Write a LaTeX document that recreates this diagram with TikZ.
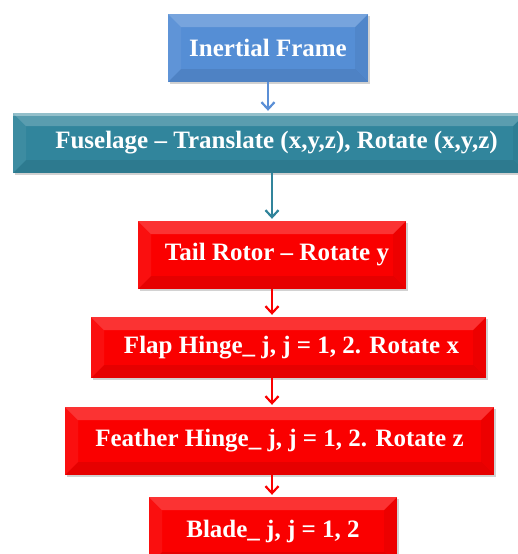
\documentclass[tikz,border=0pt]{standalone}
\usepackage{fontspec}
\setmainfont{Liberation Serif}
\usetikzlibrary{shadows,arrows.meta}
\definecolor{ifblue}{HTML}{558ED5}
\definecolor{fusteal}{HTML}{31859C}
\definecolor{boxred}{HTML}{FA0000}
\definecolor{arrblue}{HTML}{5B8FD6}
\definecolor{arrteal}{HTML}{31849B}
\newcommand\ppb{path picture bounding box}
\tikzset{
  bevelbox/.style={rectangle, fill=#1, text=white,
    font=\bfseries\fontsize{25}{30}\selectfont, inner sep=0pt,
    drop shadow={shadow xshift=1.5pt, shadow yshift=-2pt, opacity=0.25, fill=black!70},
    path picture={
      \fill[white,opacity=0.20] (\ppb.north west) -- (\ppb.north east)
        -- ([shift={(-13pt,-13pt)}]\ppb.north east) -- ([shift={(13pt,-13pt)}]\ppb.north west) -- cycle;
      \fill[white,opacity=0.06] (\ppb.north west) -- ([shift={(13pt,-13pt)}]\ppb.north west)
        -- ([shift={(13pt,13pt)}]\ppb.south west) -- (\ppb.south west) -- cycle;
      \fill[black,opacity=0.08] (\ppb.south west) -- ([shift={(13pt,13pt)}]\ppb.south west)
        -- ([shift={(-13pt,13pt)}]\ppb.south east) -- (\ppb.south east) -- cycle;
      \fill[black,opacity=0.05] (\ppb.north east) -- ([shift={(-13pt,-13pt)}]\ppb.north east)
        -- ([shift={(-13pt,13pt)}]\ppb.south east) -- (\ppb.south east) -- cycle;
    }},
  arr/.style={draw=#1, line width=2.2pt, -{Straight Barb[length=7pt,width=13pt,line width=2.2pt]}, shorten >=2pt},
}
\begin{document}
\begin{tikzpicture}[x=1pt,y=-1pt]
\useasboundingbox (0,0) rectangle (518,554);
\clip (0,0) rectangle (518,554);
\node[bevelbox=ifblue, minimum width=200pt, minimum height=68pt] (inertial) at (268,48) {Inertial Frame};
\node[bevelbox=fusteal, minimum width=513pt, minimum height=60pt] (fus) at (269.5,143) {\hspace*{14pt}Fuselage -- Translate (x,y,z), Rotate (x,y,z)};
\fill[white,opacity=0.35] (fus.north west) rectangle ([yshift=-3pt]fus.north east);
\node[bevelbox=boxred, minimum width=268pt, minimum height=68pt] (tail) at (272,255) {\hspace*{10pt}Tail Rotor -- Rotate y};
\node[bevelbox=boxred, minimum width=395pt, minimum height=61pt] (flap) at (288.5,347.5) {\hspace*{6pt}Flap Hinge\_ j, j = 1, 2. Rotate x};
\node[bevelbox=boxred, minimum width=429pt, minimum height=68pt] (feather) at (279.5,441) {Feather Hinge\_ j, j = 1, 2. Rotate z};
\node[bevelbox=boxred, minimum width=248pt, minimum height=68pt] (blade) at (273,531) {Blade\_ j, j = 1, 2};
\draw[arr=arrblue] (inertial.south) -- (inertial.south |- fus.north);
\draw[arr=arrteal] (tail.north |- fus.south) -- (tail.north);
\draw[arr=boxred] (tail.south) -- (tail.south |- flap.north);
\draw[arr=boxred] (tail.south |- flap.south) -- (tail.south |- feather.north);
\draw[arr=boxred] (tail.south |- feather.south) -- (tail.south |- blade.north);
\end{tikzpicture}
\end{document}
